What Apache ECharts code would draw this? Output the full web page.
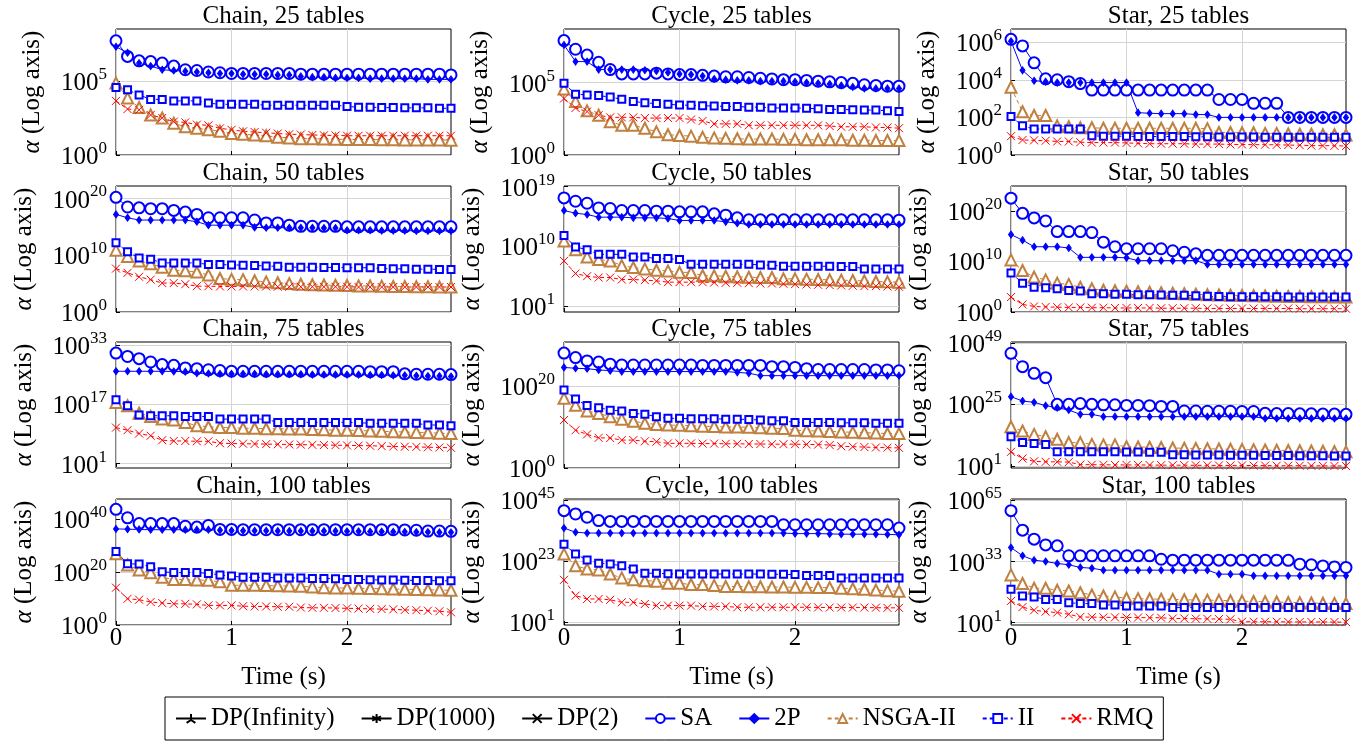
<!DOCTYPE html>
<html>
<head>
<meta charset="utf-8">
<script src="https://cdn.jsdelivr.net/npm/echarts@6/dist/echarts.min.js"></script>
<style>
html,body{margin:0;padding:0;background:#fff}
#chart{width:1360px;height:742px}
</style>
</head>
<body>
<div id="chart"></div>
<script>
// time axis (s)
var times = [0, 0.1, 0.2, 0.3, 0.4, 0.5, 0.6, 0.7, 0.8, 0.9,
             1, 1.1, 1.2, 1.3, 1.4, 1.5, 1.6, 1.7, 1.8, 1.9,
             2, 2.1, 2.2, 2.3, 2.4, 2.5, 2.6, 2.7, 2.8, 2.9];
var timeTicks = [0, 1, 2];

// y values are exponents n of alpha = 100^n
var chain25Ticks = [0, 5];
var chain25SA = [7.7, 6.65, 6.35, 6.3, 6.2, 6.0, 5.75, 5.7, 5.6, 5.55,
  5.5, 5.5, 5.5, 5.5, 5.5, 5.5, 5.45, 5.45, 5.45, 5.45,
  5.45, 5.45, 5.45, 5.45, 5.45, 5.45, 5.45, 5.45, 5.45, 5.4];
var chain25P2 = [7.3, 6.9, 6.2, 6.0, 5.75, 5.7, 5.65, 5.6, 5.55, 5.5,
  5.5, 5.45, 5.45, 5.45, 5.4, 5.4, 5.3, 5.25, 5.25, 5.2,
  5.2, 5.2, 5.15, 5.15, 5.15, 5.15, 5.15, 5.1, 5.1, 5.1];
var chain25NSGA = [4.85, 3.85, 3.2, 2.7, 2.5, 2.15, 1.9, 1.8, 1.7, 1.6,
  1.45, 1.4, 1.35, 1.3, 1.2, 1.15, 1.1, 1.1, 1.08, 1.06,
  1.05, 1.05, 1.04, 1.03, 1.03, 1.02, 1.02, 1.01, 1.01, 1.0];
var chain25II = [4.55, 4.4, 4.05, 3.75, 3.75, 3.65, 3.65, 3.65, 3.5, 3.42,
  3.42, 3.42, 3.42, 3.35, 3.35, 3.35, 3.35, 3.35, 3.35, 3.35,
  3.28, 3.22, 3.22, 3.2, 3.2, 3.18, 3.18, 3.18, 3.15, 3.15];
var chain25RMQ = [3.65, 3.1, 3.05, 2.7, 2.5, 2.25, 2.2, 2.05, 2.0, 1.8,
  1.7, 1.6, 1.55, 1.5, 1.45, 1.4, 1.38, 1.35, 1.33, 1.32,
  1.3, 1.3, 1.3, 1.3, 1.3, 1.3, 1.3, 1.3, 1.3, 1.3];

var cycle25Ticks = [0, 5];
var cycle25SA = [7.9, 7.3, 6.9, 6.4, 5.9, 5.6, 5.6, 5.6, 5.65, 5.6,
  5.55, 5.55, 5.5, 5.45, 5.4, 5.4, 5.35, 5.3, 5.25, 5.2,
  5.2, 5.15, 5.1, 5.05, 5.0, 4.95, 4.85, 4.8, 4.75, 4.75];
var cycle25P2 = [7.6, 6.45, 6.45, 5.9, 5.9, 5.9, 5.9, 5.85, 5.8, 5.7,
  5.6, 5.55, 5.45, 5.25, 5.2, 5.15, 5.15, 5.1, 5.1, 5.1,
  5.05, 5.0, 4.95, 4.9, 4.8, 4.7, 4.6, 4.6, 4.6, 4.6];
var cycle25NSGA = [4.55, 3.7, 3.05, 2.75, 2.3, 2.05, 2.05, 1.85, 1.6, 1.4,
  1.35, 1.3, 1.22, 1.18, 1.15, 1.12, 1.1, 1.1, 1.1, 1.08,
  1.08, 1.05, 1.05, 1.05, 1.05, 1.02, 1.02, 1.0, 1.0, 1.0];
var cycle25II = [4.95, 4.2, 4.15, 4.1, 4.0, 3.85, 3.7, 3.6, 3.55, 3.5,
  3.45, 3.43, 3.4, 3.38, 3.35, 3.35, 3.3, 3.3, 3.25, 3.25,
  3.25, 3.22, 3.2, 3.15, 3.15, 3.12, 3.1, 3.1, 3.05, 3.0];
var cycle25RMQ = [3.9, 3.25, 3.0, 2.75, 2.6, 2.6, 2.6, 2.55, 2.55, 2.55,
  2.55, 2.45, 2.35, 2.15, 2.15, 2.15, 2.05, 2.05, 2.05, 2.05,
  2.05, 2.05, 2.05, 2.0, 1.95, 1.95, 1.95, 1.9, 1.9, 1.85];

var star25Ticks = [0, 2, 4, 6];
var star25SA = [6.15, 5.8, 4.9, 4.05, 4.0, 3.9, 3.8, 3.45, 3.45, 3.45,
  3.45, 3.45, 3.45, 3.45, 3.45, 3.45, 3.45, 3.45, 2.95, 2.95,
  2.95, 2.75, 2.75, 2.75, 2.0, 2.0, 2.0, 2.0, 2.0, 2.0];
var star25P2 = [6.05, 4.5, 3.95, 3.9, 3.85, 3.85, 3.85, 3.85, 3.85, 3.85,
  3.85, 2.25, 2.22, 2.2, 2.2, 2.2, 2.15, 2.15, 2.0, 2.0,
  2.0, 2.0, 2.0, 2.0, 2.0, 2.0, 2.0, 2.0, 2.0, 2.0];
var star25NSGA = [3.6, 2.3, 2.1, 2.1, 1.55, 1.5, 1.45, 1.45, 1.42, 1.42,
  1.42, 1.42, 1.42, 1.42, 1.42, 1.42, 1.42, 1.4, 1.2, 1.2,
  1.18, 1.18, 1.15, 1.15, 1.12, 1.1, 1.1, 1.08, 1.08, 1.07];
var star25II = [2.05, 1.55, 1.38, 1.38, 1.38, 1.38, 1.38, 1.02, 1.0, 1.0,
  1.0, 0.98, 0.98, 0.98, 0.98, 0.98, 0.97, 0.97, 0.96, 0.96,
  0.96, 0.96, 0.95, 0.95, 0.95, 0.95, 0.95, 0.95, 0.94, 0.94];
var star25RMQ = [1.0, 0.8, 0.78, 0.76, 0.72, 0.72, 0.68, 0.66, 0.66, 0.66,
  0.64, 0.62, 0.6, 0.6, 0.6, 0.6, 0.58, 0.58, 0.58, 0.56,
  0.56, 0.55, 0.55, 0.54, 0.53, 0.52, 0.5, 0.5, 0.49, 0.48];

var chain50Ticks = [0, 10, 20];
var chain50SA = [20.2, 18.5, 18.35, 18.2, 18.2, 17.9, 17.6, 17.2, 16.6, 16.6,
  16.6, 16.6, 16.2, 15.7, 15.7, 15.3, 15.1, 15.1, 15.1, 15.1,
  15.0, 15.0, 15.0, 15.0, 15.0, 15.0, 15.0, 15.0, 15.0, 15.0];
var chain50P2 = [17.2, 16.6, 16.2, 16.2, 16.2, 16.2, 16.2, 15.9, 15.3, 15.3,
  15.3, 15.3, 14.9, 14.85, 14.85, 14.85, 14.85, 14.85, 14.8, 14.8,
  14.4, 14.4, 14.4, 14.35, 14.35, 14.35, 14.3, 14.3, 14.3, 14.3];
var chain50NSGA = [10.9, 9.8, 9.0, 8.5, 7.9, 7.35, 7.25, 7.05, 6.5, 5.9,
  5.75, 5.7, 5.5, 5.3, 5.15, 5.0, 4.9, 4.8, 4.75, 4.7,
  4.65, 4.6, 4.6, 4.55, 4.5, 4.5, 4.45, 4.45, 4.4, 4.4];
var chain50II = [12.2, 10.6, 9.5, 9.3, 8.65, 8.65, 8.65, 8.65, 8.35, 8.35,
  8.3, 8.25, 8.2, 8.1, 8.05, 7.9, 7.9, 7.9, 7.85, 7.85,
  7.8, 7.8, 7.8, 7.65, 7.6, 7.6, 7.55, 7.55, 7.5, 7.5];
var chain50RMQ = [7.65, 6.9, 6.2, 5.7, 5.1, 5.1, 4.9, 4.55, 4.55, 4.5,
  4.5, 4.5, 4.5, 4.5, 4.45, 4.45, 4.45, 4.45, 4.45, 4.45,
  4.45, 4.4, 4.4, 4.4, 4.4, 4.4, 4.4, 4.4, 4.4, 4.4];

var cycle50Ticks = [1, 10, 19];
var cycle50SA = [17.3, 16.8, 16.5, 15.8, 15.7, 15.4, 15.4, 15.4, 15.3, 15.3,
  15.2, 15.2, 15.2, 14.9, 14.7, 14.3, 14.0, 14.0, 14.0, 14.0,
  14.0, 14.0, 14.0, 14.0, 14.0, 14.0, 14.0, 14.0, 14.0, 13.95];
var cycle50P2 = [15.4, 15.0, 14.8, 14.4, 14.4, 14.4, 14.3, 14.3, 14.3, 14.2,
  13.9, 13.9, 13.9, 13.9, 13.7, 13.5, 13.3, 13.3, 13.3, 13.3,
  13.3, 13.3, 13.3, 13.3, 13.3, 13.3, 13.3, 13.3, 13.3, 13.3];
var cycle50NSGA = [10.8, 9.5, 8.4, 8.0, 7.8, 7.1, 6.8, 6.6, 6.4, 6.3,
  6.1, 6.05, 5.6, 5.55, 5.5, 5.4, 5.35, 5.3, 5.3, 5.1,
  5.1, 5.05, 5.0, 4.95, 4.9, 4.85, 4.8, 4.7, 4.65, 4.6];
var cycle50II = [11.65, 9.9, 9.5, 8.8, 8.8, 8.8, 8.4, 8.4, 8.15, 8.15,
  8.0, 7.3, 7.3, 7.3, 7.3, 7.3, 7.3, 7.2, 7.15, 7.0,
  7.0, 7.0, 7.0, 7.0, 6.95, 6.95, 6.6, 6.6, 6.6, 6.6];
var cycle50RMQ = [7.8, 5.9, 5.5, 5.3, 5.3, 5.0, 5.0, 4.9, 4.8, 4.6,
  4.6, 4.6, 4.6, 4.55, 4.5, 4.5, 4.45, 4.4, 4.4, 4.35,
  4.3, 4.25, 4.2, 4.15, 4.1, 4.05, 4.0, 4.0, 3.95, 3.9];

var star50Ticks = [0, 10, 20];
var star50SA = [22.5, 19.5, 18.6, 18.0, 15.9, 15.9, 15.9, 15.7, 13.8, 12.9,
  12.5, 12.5, 12.5, 12.5, 12.1, 11.8, 11.5, 11.2, 11.2, 11.2,
  11.2, 11.2, 11.2, 11.2, 11.2, 11.2, 11.2, 11.2, 11.2, 11.2];
var star50P2 = [15.3, 14.2, 12.9, 12.9, 12.9, 12.65, 10.8, 10.8, 10.8, 10.8,
  10.7, 10.15, 10.15, 10.15, 10.15, 10.15, 10.15, 9.4, 9.4, 9.4,
  9.4, 9.4, 9.4, 9.4, 9.4, 9.4, 9.4, 9.4, 9.4, 9.4];
var star50NSGA = [10.3, 8.2, 6.9, 6.35, 5.7, 5.45, 4.9, 4.6, 4.3, 4.2,
  4.1, 4.0, 3.9, 3.8, 3.7, 3.6, 3.5, 3.4, 3.35, 3.3,
  3.25, 3.2, 3.15, 3.1, 3.05, 3.05, 3.0, 3.0, 2.95, 2.95];
var star50II = [7.7, 5.7, 4.9, 4.8, 4.6, 4.25, 4.15, 3.6, 3.6, 3.5,
  3.5, 3.4, 3.4, 3.35, 3.3, 3.3, 3.2, 3.1, 3.05, 3.0,
  3.0, 3.0, 3.0, 3.0, 2.95, 2.95, 2.95, 2.95, 2.95, 2.95];
var star50RMQ = [2.95, 1.5, 1.1, 1.0, 0.95, 0.9, 0.9, 0.85, 0.85, 0.8,
  0.8, 0.8, 0.8, 0.75, 0.75, 0.75, 0.75, 0.7, 0.7, 0.7,
  0.7, 0.7, 0.7, 0.7, 0.7, 0.65, 0.65, 0.65, 0.65, 0.65];

var chain75Ticks = [1, 17, 33];
var chain75SA = [30.8, 29.9, 29.3, 28.4, 27.7, 27.5, 26.8, 26.6, 26.3, 26.1,
  25.9, 25.9, 25.9, 25.9, 25.9, 25.9, 25.9, 25.9, 25.9, 25.9,
  25.9, 25.9, 25.8, 25.8, 25.8, 25.2, 25.1, 25.1, 25.1, 25.0];
var chain75P2 = [25.9, 25.9, 25.9, 25.9, 25.9, 25.85, 25.8, 25.4, 25.3, 25.2,
  25.2, 25.2, 25.2, 25.1, 25.1, 25.1, 25.1, 25.0, 25.0, 25.0,
  25.0, 25.0, 24.9, 24.9, 24.8, 24.8, 24.7, 24.6, 24.6, 24.5];
var chain75NSGA = [17.5, 16.6, 14.6, 13.7, 13.0, 12.75, 12.1, 11.2, 10.95, 10.7,
  10.7, 10.5, 10.5, 10.4, 10.4, 10.3, 10.3, 10.2, 10.1, 10.0,
  10.0, 9.9, 9.8, 9.7, 9.6, 9.5, 9.4, 9.3, 9.2, 9.1];
var chain75II = [18.2, 16.6, 14.1, 13.9, 13.9, 13.9, 13.7, 13.7, 13.7, 13.0,
  13.0, 13.0, 13.0, 13.0, 12.1, 12.1, 12.1, 12.1, 12.1, 12.1,
  12.1, 12.05, 11.85, 11.85, 11.85, 11.85, 11.85, 11.4, 11.4, 11.2];
var chain75RMQ = [10.7, 10.0, 9.1, 8.5, 7.3, 7.1, 7.1, 7.0, 7.0, 6.5,
  6.4, 6.35, 6.3, 6.25, 6.2, 6.15, 6.1, 6.05, 6.0, 5.95,
  5.9, 5.85, 5.8, 5.7, 5.6, 5.55, 5.5, 5.4, 5.35, 5.25];

var cycle75Ticks = [0, 20];
var cycle75SA = [28.0, 26.9, 26.1, 25.8, 25.3, 25.1, 25.1, 25.1, 25.1, 25.1,
  25.1, 25.1, 25.0, 25.0, 25.0, 25.0, 25.0, 25.0, 24.7, 24.7,
  24.5, 24.2, 24.0, 24.0, 24.0, 24.0, 24.0, 23.9, 23.9, 23.7];
var cycle75P2 = [24.5, 24.3, 24.2, 23.9, 23.7, 23.5, 23.5, 23.5, 23.5, 23.5,
  23.5, 23.5, 23.5, 23.5, 23.5, 23.3, 23.1, 22.5, 22.5, 22.5,
  22.5, 22.5, 22.5, 22.5, 22.5, 22.5, 22.5, 22.5, 22.5, 22.5];
var cycle75NSGA = [17.0, 15.3, 13.9, 13.3, 12.5, 11.9, 11.4, 10.9, 10.6, 10.45,
  10.4, 10.3, 10.2, 10.1, 10.0, 10.0, 9.9, 9.8, 9.7, 9.6,
  9.2, 9.1, 9.0, 8.9, 8.8, 8.7, 8.6, 8.5, 8.4, 8.4];
var cycle75II = [19.0, 16.8, 15.2, 14.7, 14.1, 13.9, 13.3, 13.1, 12.5, 12.1,
  12.1, 12.0, 12.0, 12.0, 11.9, 11.9, 11.8, 11.7, 11.5, 11.5,
  11.1, 11.1, 11.1, 11.1, 11.0, 11.0, 11.0, 10.9, 10.9, 10.9];
var cycle75RMQ = [11.7, 9.2, 8.2, 7.35, 7.3, 6.8, 6.8, 6.5, 6.4, 6.0,
  6.0, 6.0, 5.95, 5.95, 5.9, 5.9, 5.85, 5.85, 5.8, 5.8,
  5.8, 5.75, 5.7, 5.6, 5.3, 5.2, 5.1, 5.0, 4.95, 4.9];

var star75Ticks = [1, 25, 49];
var star75SA = [44.9, 39.7, 37.1, 35.4, 25.0, 25.0, 25.3, 25.0, 24.8, 24.8,
  24.6, 24.6, 24.5, 24.2, 24.2, 22.4, 22.4, 22.3, 22.3, 22.3,
  22.2, 22.2, 21.5, 21.4, 21.4, 21.3, 21.3, 21.2, 21.2, 21.1];
var star75P2 = [28.0, 26.3, 25.8, 24.5, 23.7, 22.8, 21.1, 21.1, 20.2, 20.2,
  20.2, 20.2, 20.2, 20.2, 20.2, 20.2, 20.2, 20.2, 20.2, 20.2,
  20.2, 20.2, 19.5, 19.5, 19.5, 19.5, 19.5, 19.5, 19.5, 19.5];
var star75NSGA = [16.3, 14.6, 13.3, 12.4, 11.4, 10.1, 10.1, 9.4, 9.2, 9.2,
  8.5, 8.4, 8.3, 8.2, 8.0, 7.9, 7.8, 7.7, 7.6, 7.5,
  7.4, 7.3, 7.2, 7.1, 7.0, 6.9, 6.8, 6.7, 6.6, 6.5];
var star75II = [12.4, 10.1, 9.7, 9.4, 6.5, 6.5, 6.5, 6.5, 6.5, 6.5,
  6.4, 6.4, 6.3, 6.3, 5.4, 5.4, 5.3, 5.3, 5.3, 5.2,
  5.2, 5.2, 5.1, 5.1, 5.1, 5.0, 5.0, 5.0, 4.9, 4.9];
var star75RMQ = [6.5, 3.9, 2.8, 2.6, 2.6, 2.5, 1.5, 1.5, 1.45, 1.4,
  1.4, 1.4, 1.35, 1.3, 1.3, 1.3, 1.25, 1.25, 1.2, 1.2,
  1.2, 1.15, 1.15, 1.1, 1.1, 1.1, 1.05, 1.05, 1.0, 1.0];

var chain100Ticks = [0, 20, 40];
var chain100SA = [43.7, 40.5, 38.3, 38.3, 38.3, 38.3, 37.3, 37.0, 37.6, 36.1,
  36.1, 36.0, 36.0, 36.0, 36.0, 36.0, 36.0, 36.0, 36.0, 36.0,
  36.0, 36.0, 36.0, 36.0, 36.0, 35.9, 35.8, 35.5, 35.5, 35.4];
var chain100P2 = [36.3, 36.2, 36.1, 36.0, 36.0, 36.0, 36.0, 36.0, 36.0, 35.8,
  35.7, 35.6, 35.6, 35.6, 35.5, 35.5, 35.5, 35.5, 35.5, 35.5,
  35.4, 35.4, 35.3, 35.3, 35.2, 35.2, 35.1, 35.1, 35.0, 35.0];
var chain100NSGA = [26.9, 22.7, 20.8, 19.7, 18.0, 17.2, 17.2, 17.0, 16.9, 16.3,
  15.0, 15.0, 15.0, 14.9, 14.8, 14.7, 14.6, 14.4, 14.1, 14.0,
  14.0, 13.9, 13.8, 13.7, 13.6, 13.5, 13.4, 13.3, 13.2, 13.1];
var chain100II = [27.8, 23.1, 23.0, 22.0, 20.1, 19.8, 19.8, 19.8, 19.5, 18.9,
  18.5, 18.0, 18.0, 18.0, 17.8, 17.8, 17.8, 17.6, 17.6, 17.5,
  17.2, 17.2, 17.1, 17.0, 17.0, 16.9, 16.8, 16.8, 16.7, 16.7];
var chain100RMQ = [14.1, 9.9, 9.55, 8.7, 8.3, 8.0, 8.0, 7.8, 7.4, 7.4,
  7.4, 7.1, 7.0, 7.0, 6.9, 6.9, 6.6, 6.5, 6.5, 6.4,
  6.3, 6.2, 6.1, 6.0, 5.9, 5.7, 5.6, 5.4, 5.2, 4.8];

var cycle100Ticks = [1, 23, 45];
var cycle100SA = [41.3, 40.1, 38.9, 37.7, 37.4, 37.4, 37.4, 37.4, 37.4, 37.4,
  37.4, 37.4, 37.4, 37.4, 37.4, 37.4, 37.4, 37.4, 37.4, 36.2,
  36.2, 36.2, 36.2, 36.2, 36.2, 36.2, 36.2, 36.2, 36.2, 35.0];
var cycle100P2 = [35.0, 33.5, 33.2, 33.2, 33.2, 33.2, 33.2, 33.2, 33.2, 33.2,
  33.2, 33.2, 33.2, 33.2, 33.2, 33.2, 33.2, 33.2, 33.2, 33.2,
  33.0, 33.0, 33.0, 32.9, 32.8, 32.8, 32.8, 32.8, 32.7, 32.6];
var cycle100NSGA = [25.6, 21.4, 20.2, 19.9, 18.4, 17.0, 16.3, 16.0, 15.8, 15.1,
  15.1, 14.6, 14.6, 14.3, 13.9, 13.9, 13.8, 13.8, 13.7, 13.7,
  13.6, 13.6, 13.5, 13.5, 13.3, 13.1, 12.9, 12.6, 12.4, 12.2];
var cycle100II = [29.2, 25.6, 23.5, 22.3, 22.0, 21.4, 20.2, 18.7, 18.7, 18.5,
  18.4, 18.4, 18.4, 18.4, 18.4, 18.4, 18.4, 18.4, 18.3, 18.3,
  18.2, 17.9, 17.9, 17.9, 17.0, 17.0, 17.0, 17.0, 17.0, 17.0];
var cycle100RMQ = [16.3, 10.6, 9.4, 9.4, 9.1, 8.2, 8.2, 7.6, 7.0, 7.0,
  7.0, 7.0, 6.7, 6.7, 6.7, 6.4, 6.4, 6.4, 6.4, 6.4,
  6.4, 6.4, 6.35, 6.3, 6.3, 6.3, 6.3, 6.25, 6.2, 6.2];

var star100Ticks = [1, 33, 65];
var star100SA = [59.6, 49.4, 44.7, 41.7, 41.2, 36.0, 36.0, 36.0, 36.0, 36.0,
  36.0, 36.0, 36.0, 34.2, 33.7, 33.7, 33.7, 33.7, 33.7, 33.7,
  33.7, 33.7, 33.7, 33.7, 33.6, 31.6, 31.3, 30.7, 30.2, 29.9];
var star100P2 = [40.3, 36.0, 33.7, 33.0, 32.0, 31.3, 29.9, 29.5, 28.5, 28.5,
  28.5, 28.5, 28.5, 28.5, 28.5, 28.5, 28.5, 28.5, 26.4, 26.4,
  26.4, 25.5, 25.5, 25.5, 25.5, 25.5, 25.5, 25.5, 25.5, 25.5];
var star100NSGA = [26.0, 21.5, 19.0, 19.0, 18.0, 17.6, 16.7, 15.5, 15.0, 14.5,
  13.8, 13.6, 13.4, 13.3, 13.2, 13.0, 12.9, 12.8, 12.7, 12.5,
  12.3, 12.1, 12.0, 11.8, 11.6, 11.5, 11.3, 11.2, 11.1, 11.0];
var star100II = [18.5, 15.0, 14.5, 13.2, 13.2, 11.5, 11.0, 11.0, 10.3, 10.3,
  9.8, 9.8, 9.8, 9.75, 8.9, 8.9, 8.9, 8.9, 8.9, 8.9,
  8.9, 8.9, 8.9, 8.9, 8.9, 8.9, 8.9, 8.9, 8.9, 8.9];
var star100RMQ = [12.4, 9.2, 7.5, 6.8, 6.3, 5.4, 4.0, 3.9, 3.8, 3.8,
  3.7, 3.7, 3.6, 3.6, 3.2, 3.2, 3.1, 3.0, 2.9, 2.8,
  1.5, 1.5, 1.5, 1.5, 1.4, 1.4, 1.4, 1.4, 1.35, 1.3];

var legendNames = ['DP(Infinity)', 'DP(1000)', 'DP(2)', 'SA', '2P', 'NSGA-II', 'II', 'RMQ'];

// layout of the 4x3 panels
var panels = [
  {title: 'Chain, 25 tables',  row: 0, col: 0, yMin: 0,    yMax: 8.5,  ticks: chain25Ticks,  d: [chain25SA, chain25P2, chain25NSGA, chain25II, chain25RMQ]},
  {title: 'Cycle, 25 tables',  row: 0, col: 1, yMin: 0,    yMax: 8.7,  ticks: cycle25Ticks,  d: [cycle25SA, cycle25P2, cycle25NSGA, cycle25II, cycle25RMQ]},
  {title: 'Star, 25 tables',   row: 0, col: 2, yMin: 0,    yMax: 6.7,  ticks: star25Ticks,   d: [star25SA, star25P2, star25NSGA, star25II, star25RMQ]},
  {title: 'Chain, 50 tables',  row: 1, col: 0, yMin: 0,    yMax: 22.2, ticks: chain50Ticks,  d: [chain50SA, chain50P2, chain50NSGA, chain50II, chain50RMQ]},
  {title: 'Cycle, 50 tables',  row: 1, col: 1, yMin: 0.1,  yMax: 19.1, ticks: cycle50Ticks,  d: [cycle50SA, cycle50P2, cycle50NSGA, cycle50II, cycle50RMQ]},
  {title: 'Star, 50 tables',   row: 1, col: 2, yMin: 0,    yMax: 24.9, ticks: star50Ticks,   d: [star50SA, star50P2, star50NSGA, star50II, star50RMQ]},
  {title: 'Chain, 75 tables',  row: 2, col: 0, yMin: -0.2, yMax: 33.8, ticks: chain75Ticks,  d: [chain75SA, chain75P2, chain75NSGA, chain75II, chain75RMQ]},
  {title: 'Cycle, 75 tables',  row: 2, col: 1, yMin: 0,    yMax: 30.7, ticks: cycle75Ticks,  d: [cycle75SA, cycle75P2, cycle75NSGA, cycle75II, cycle75RMQ]},
  {title: 'Star, 75 tables',   row: 2, col: 2, yMin: 0.2,  yMax: 49.3, ticks: star75Ticks,   d: [star75SA, star75P2, star75NSGA, star75II, star75RMQ]},
  {title: 'Chain, 100 tables', row: 3, col: 0, yMin: 0,    yMax: 47.6, ticks: chain100Ticks, d: [chain100SA, chain100P2, chain100NSGA, chain100II, chain100RMQ]},
  {title: 'Cycle, 100 tables', row: 3, col: 1, yMin: 0,    yMax: 45.5, ticks: cycle100Ticks, d: [cycle100SA, cycle100P2, cycle100NSGA, cycle100II, cycle100RMQ]},
  {title: 'Star, 100 tables',  row: 3, col: 2, yMin: -0.2, yMax: 65.7, ticks: star100Ticks,  d: [star100SA, star100P2, star100NSGA, star100II, star100RMQ]}
];

var FONT = '"Liberation Serif", "DejaVu Serif", serif';
var FS = 25;
var colLeft = [116, 564, 1011];
var rowTop = [29, 186, 342, 499];
var plotW = 335, plotH = 126;
var GRID_COLOR = '#d4d4d4';

var styles = [
  {name: 'SA',      color: '#0000ff', symbol: 'emptyCircle',   size: 11,     dash: 'solid'},
  {name: '2P',      color: '#0000ff', symbol: 'diamond',       size: [5, 7], dash: 'solid'},
  {name: 'NSGA-II', color: '#bf8040', symbol: 'emptyTriangle', size: 11,     dash: [4, 3]},
  {name: 'II',      color: '#0000ff', symbol: 'emptyRect',     size: 7,      dash: [4, 3]},
  {name: 'RMQ',     color: '#ff0000', symbol: 'path://M0,0L10,10M10,0L0,10', size: 8, dash: [4, 3]}
];

var dom = document.getElementById('chart');
var myChart = echarts.init(dom);

var grids = [], xAxes = [], yAxes = [], series = [], titles = [];

// empty DP series, legend only
var dpSeries = [
  {name: 'DP(Infinity)', symbol: 'path://M5,0L5,5M5,5L0.7,7.5M5,5L9.3,7.5'},
  {name: 'DP(1000)',     symbol: 'path://M5,0L5,10M0.7,2.5L9.3,7.5M0.7,7.5L9.3,2.5'},
  {name: 'DP(2)',        symbol: 'path://M0,0L10,10M10,0L0,10'}
];
dpSeries.forEach(function(s){
  series.push({
    type: 'line', name: s.name, data: [], xAxisIndex: 0, yAxisIndex: 0,
    symbol: s.symbol, symbolSize: 9, color: '#000',
    itemStyle: {color: '#000', borderColor: '#000', borderWidth: 1.2},
    lineStyle: {color: '#000', width: 1}
  });
});

panels.forEach(function(p, k){
  var left = colLeft[p.col], top = rowTop[p.row];
  var maxTick = Math.max.apply(null, p.ticks);
  var labelW = 3 * 12.5 + String(maxTick).length * 8.5;
  var bottomRow = p.row === 3;

  grids.push({
    left: left, top: top, width: plotW, height: plotH,
    show: true, borderColor: '#000', borderWidth: 1,
    containLabel: false, outerBoundsMode: 'none'
  });

  titles.push({
    text: p.title, left: left + plotW / 2, top: top - 25, textAlign: 'center', padding: 0,
    textStyle: {fontFamily: FONT, fontSize: FS, fontWeight: 'normal', color: '#000'}
  });

  xAxes.push({
    type: 'value', gridIndex: k, min: 0, max: 2.9, interval: 1,
    axisLine: {show: false},
    axisTick: {show: true, inside: true, length: 4, customValues: timeTicks, lineStyle: {color: '#000'}},
    axisLabel: {show: bottomRow, customValues: timeTicks, margin: 1, color: '#000', fontFamily: FONT, fontSize: FS},
    splitLine: {show: true, lineStyle: {color: GRID_COLOR, width: 1}},
    name: bottomRow ? 'Time (s)' : '', nameLocation: 'middle', nameGap: 40,
    nameTextStyle: {fontFamily: FONT, fontSize: FS, color: '#000'}
  });

  yAxes.push({
    type: 'value', gridIndex: k, min: p.yMin, max: p.yMax,
    axisLine: {show: false},
    axisTick: {show: true, inside: true, length: 4, customValues: p.ticks, lineStyle: {color: '#000'}},
    axisLabel: {
      customValues: p.ticks, margin: 9,
      formatter: function(v){ return '{b|100}{s|' + Math.round(v) + '}'; },
      rich: {
        b: {fontFamily: FONT, fontSize: FS, color: '#000', lineHeight: 30, verticalAlign: 'bottom'},
        s: {fontFamily: FONT, fontSize: 17, color: '#000', lineHeight: 17, verticalAlign: 'top'}
      }
    },
    splitLine: {show: true, lineStyle: {color: GRID_COLOR, width: 1}},
    name: '{a|α} (Log axis)', nameLocation: 'middle', nameGap: 9 + labelW + 16,
    nameTextStyle: {
      fontFamily: FONT, fontSize: FS, color: '#000',
      rich: {a: {fontFamily: FONT, fontSize: FS, fontStyle: 'italic', color: '#000'}}
    }
  });

  styles.forEach(function(st, j){
    var vals = p.d[j];
    series.push({
      type: 'line', name: st.name, xAxisIndex: k, yAxisIndex: k,
      data: times.map(function(t, i){ return [t, vals[i]]; }),
      symbol: st.symbol, symbolSize: st.size, showSymbol: true, showAllSymbol: true,
      color: st.color,
      itemStyle: {color: st.color, borderColor: st.color, borderWidth: 1},
      lineStyle: {color: st.color, width: 1, type: st.dash},
      emphasis: {disabled: true}
    });
  });
});

myChart.setOption({
  animation: false,
  backgroundColor: '#fff',
  title: titles,
  legend: {
    data: legendNames, left: 165, top: 697, orient: 'horizontal',
    itemWidth: 30, itemHeight: 11, itemGap: 26, padding: [9, 10],
    borderColor: '#000', borderWidth: 1, selectedMode: false,
    textStyle: {fontFamily: FONT, fontSize: FS, color: '#000'}
  },
  grid: grids,
  xAxis: xAxes,
  yAxis: yAxes,
  series: series
});
window.addEventListener('resize', function(){ myChart.resize(); });
</script>
</body>
</html>
